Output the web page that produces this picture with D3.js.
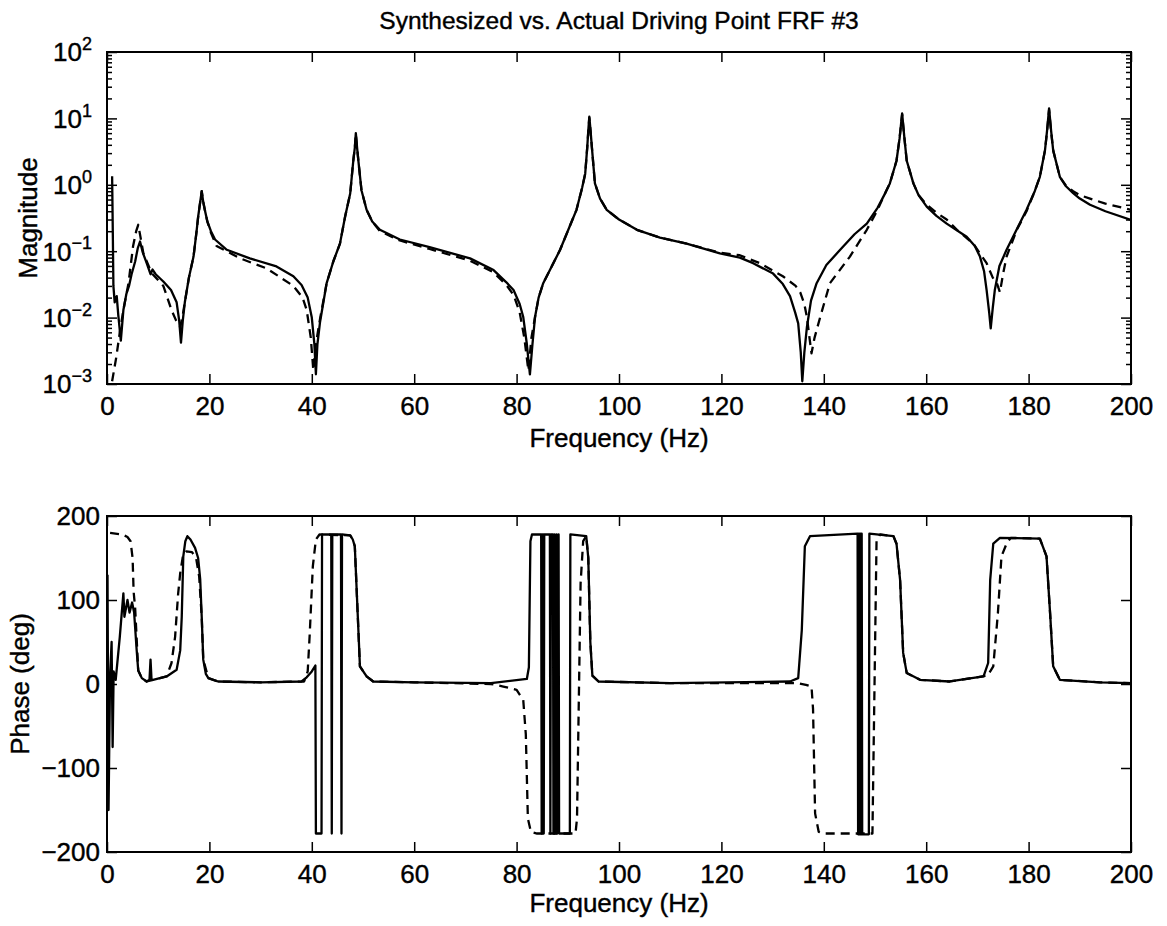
<!DOCTYPE html>
<html>
<head>
<meta charset="utf-8">
<script src="https://d3js.org/d3.v7.min.js"></script>
<style>
  body { margin: 0; background: white; }
  svg { display: block; font-family: "Liberation Sans", Arial, Helvetica, sans-serif; }
  svg text { fill: black; stroke: black; stroke-width: 0.4; }
  .tick line { stroke: black; stroke-width: 1.5; }
  .tick text { font-size: 26px; }
  .line { fill: none; stroke: black; stroke-width: 2.3; stroke-linejoin: round; }
  .dash { stroke-dasharray: 9 6; }
</style>
</head>
<body>
<div id="chart"></div>
<script>
// frequency axis ticks (Hz)
var freqTicks = [0, 20, 40, 60, 80, 100, 120, 140, 160, 180, 200];
var magDecades = [1e-3, 1e-2, 1e-1, 1, 10, 100];
var magExponents = ["\u22123", "\u22122", "\u22121", "0", "1", "2"];
var phaseTicks = [-200, -100, 0, 100, 200];

// actual (measured) FRF magnitude, solid line: [Hz, magnitude]
var actualMag = [
  [1.0, 1.35], [1.15, 0.15], [1.25, 0.03], [1.5, 0.017], [1.9, 0.021], [2.2, 0.011],
  [2.7, 0.0045], [3.2, 0.013], [3.8, 0.023], [4.3, 0.03], [4.8, 0.045], [5.5, 0.07],
  [6.0, 0.11], [6.45, 0.14], [7.0, 0.095], [7.75, 0.066], [8.5, 0.045], [8.9, 0.053],
  [9.5, 0.045], [11.0, 0.035], [12.5, 0.026], [13.6, 0.017], [14.1, 0.009], [14.45, 0.0042],
  [14.8, 0.009], [15.2, 0.017], [16.0, 0.04], [16.9, 0.083], [17.5, 0.2], [17.8, 0.33],
  [18.2, 0.55], [18.5, 0.8], [18.8, 0.55], [19.1, 0.42], [19.6, 0.28], [20.3, 0.2],
  [21.1, 0.15], [23.4, 0.105], [27.9, 0.078], [33.1, 0.059], [36.4, 0.042], [38.0, 0.031],
  [39.2, 0.02], [40.0, 0.01], [40.5, 0.004], [40.8, 0.0014], [41.1, 0.004], [41.6, 0.0085],
  [42.9, 0.033], [44.2, 0.07], [45.5, 0.13], [46.5, 0.33], [47.5, 0.74], [48.1, 2.3],
  [48.4, 3.6], [48.6, 6.0], [48.85, 3.6], [49.1, 2.3], [49.7, 0.83], [50.7, 0.42],
  [51.8, 0.28], [53.3, 0.21], [57.2, 0.15], [63.0, 0.115], [70.9, 0.078], [75.5, 0.052],
  [78.0, 0.034], [79.4, 0.026], [80.6, 0.016], [81.3, 0.0102], [82.0, 0.004], [82.6, 0.0014],
  [83.1, 0.004], [83.6, 0.0102], [84.3, 0.02], [85.2, 0.033], [88.5, 0.105], [90.5, 0.25],
  [91.7, 0.42], [92.8, 0.9], [93.4, 1.47], [93.8, 3.7], [94.0, 6.5], [94.2, 10.6],
  [94.45, 6.5], [94.7, 3.7], [95.3, 1.05], [96.3, 0.62], [97.6, 0.42], [100, 0.3],
  [103.5, 0.21], [108, 0.16], [113.2, 0.13], [119.7, 0.093], [123.6, 0.08], [126.2, 0.066],
  [130.1, 0.046], [132.0, 0.032], [133.4, 0.021], [134.4, 0.012], [135.0, 0.0082], [135.5, 0.003],
  [135.8, 0.0011], [136.2, 0.003], [136.7, 0.0072], [137.5, 0.018], [138.6, 0.033], [140.5, 0.062],
  [143.2, 0.105], [146.0, 0.18], [148.4, 0.26], [150.5, 0.45], [152.0, 0.75], [152.9, 1.05],
  [153.6, 1.6], [154.2, 2.3], [154.8, 5], [155.3, 11.9], [155.75, 5], [156.2, 2.3],
  [157.5, 1.05], [158.5, 0.7], [160.1, 0.47], [162, 0.34], [164, 0.26], [167.9, 0.165],
  [169.5, 0.12], [170.5, 0.083], [171.3, 0.05], [171.8, 0.026], [172.3, 0.012], [172.6, 0.0069],
  [173.0, 0.014], [173.4, 0.026], [174.3, 0.06], [175.7, 0.105], [177.5, 0.2], [179.6, 0.42],
  [181.2, 0.8], [182.2, 1.32], [183.2, 3.3], [183.6, 6.5], [184.0, 14.2], [184.4, 6.5],
  [184.8, 3.3], [186.1, 1.32], [187.3, 0.95], [188.7, 0.75], [190, 0.62], [192, 0.5],
  [195, 0.4], [200, 0.295]
];

// synthesized FRF magnitude, dashed line: [Hz, magnitude]
var synthMag = [
  [1.0, 0.0011], [1.8, 0.0025], [2.5, 0.006], [3.2, 0.013], [4.2, 0.033], [5.1, 0.12],
  [5.7, 0.2], [6.1, 0.25], [6.5, 0.17], [7.1, 0.093], [8.7, 0.047], [11.0, 0.03],
  [12.6, 0.013], [13.5, 0.009], [14.3, 0.0072], [14.8, 0.011], [15.2, 0.017], [16.0, 0.04],
  [16.9, 0.083], [17.5, 0.2], [17.8, 0.33], [18.2, 0.55], [18.5, 0.8], [18.8, 0.55],
  [19.1, 0.42], [19.6, 0.28], [20.3, 0.19], [21.4, 0.12], [26.0, 0.078], [31.2, 0.055],
  [36.4, 0.03], [38.2, 0.02], [39.0, 0.013], [39.8, 0.005], [40.3, 0.0016], [40.8, 0.004],
  [41.6, 0.0095], [42.9, 0.033], [44.2, 0.07], [45.5, 0.13], [46.5, 0.33], [47.5, 0.74],
  [48.1, 2.3], [48.4, 3.6], [48.6, 5.8], [48.85, 3.6], [49.1, 2.3], [49.7, 0.83],
  [50.7, 0.42], [51.8, 0.28], [53.3, 0.2], [57.2, 0.145], [63.0, 0.108], [70.9, 0.072],
  [75.5, 0.048], [78.0, 0.031], [79.4, 0.022], [80.6, 0.012], [81.5, 0.005], [82.3, 0.0016],
  [82.9, 0.005], [83.6, 0.0102], [84.3, 0.02], [85.2, 0.033], [88.5, 0.105], [90.5, 0.25],
  [91.7, 0.42], [92.8, 0.9], [93.4, 1.47], [93.8, 3.7], [94.0, 6.3], [94.2, 10.2],
  [94.45, 6.3], [94.7, 3.7], [95.3, 1.05], [96.3, 0.62], [97.6, 0.42], [100, 0.3],
  [103.5, 0.21], [108, 0.16], [113.2, 0.13], [119.7, 0.095], [123.6, 0.087], [127.5, 0.066],
  [132.0, 0.042], [134.5, 0.03], [135.4, 0.024], [136.2, 0.016], [136.7, 0.0102], [137.2, 0.005],
  [137.6, 0.0029], [138.2, 0.005], [139.3, 0.0102], [141.2, 0.033], [145.1, 0.083], [148.4, 0.21],
  [150.5, 0.42], [152.0, 0.75], [152.9, 1.05], [153.6, 1.6], [154.2, 2.3], [154.8, 5],
  [155.3, 11.5], [155.75, 5], [156.2, 2.3], [157.5, 1.05], [158.5, 0.7], [160.1, 0.5],
  [162, 0.38], [164, 0.3], [166, 0.21], [169.2, 0.13], [171.8, 0.066], [173.0, 0.04],
  [173.8, 0.033], [174.4, 0.024], [175.0, 0.045], [175.7, 0.083], [177.7, 0.21], [179.6, 0.4],
  [181.2, 0.8], [182.2, 1.32], [183.2, 3.3], [183.6, 6.3], [184.0, 13.5], [184.4, 6.3],
  [184.8, 3.3], [186.1, 1.32], [187.3, 0.97], [188.7, 0.8], [190, 0.7], [192, 0.62],
  [195, 0.52], [200, 0.42]
];

// actual FRF phase, solid line: [Hz, deg]
var actualPhase = [
  [0.1, 130], [0.3, -150], [0.6, 10], [0.9, 50], [1.1, -75], [1.3, 15], [1.7, 5],
  [2.5, 56], [3.2, 108], [3.4, 80], [4.0, 100], [4.4, 85], [4.9, 97], [5.3, 85],
  [5.8, 40], [6.1, 16], [6.8, 7], [7.75, 3], [8.3, 5], [8.5, 29], [8.7, 5], [9, 5],
  [11.65, 9], [13.6, 17], [14.3, 40], [14.6, 80], [14.9, 152], [15.3, 170], [15.7, 176],
  [16.3, 172], [17.2, 162], [17.8, 150], [18.2, 125], [18.5, 80], [18.8, 29], [19.3, 12],
  [19.8, 7], [21.7, 3], [30, 2], [38, 3], [39, 8], [40.0, 15], [40.7, 22], [40.8, -178],
  [41.9, -178], [42.0, 178], [43.8, 178], [43.9, -178], [44.0, 178], [45.7, 178], [45.8, -178],
  [45.9, 178], [47.5, 177], [48.0, 172], [48.4, 164], [49.1, 64], [49.4, 21], [50.7, 9],
  [52, 3], [60, 2], [75, 1], [82, 6], [82.4, 20], [82.7, 170], [83.0, 178], [84.8, 178],
  [84.9, -178], [85.0, 178], [85.1, -178], [85.2, 178], [85.3, -178], [85.4, 178], [86.5, 178],
  [86.6, -178], [86.7, 178], [87.1, 178], [87.2, -178], [87.4, 178], [87.5, -178], [87.8, 178],
  [87.9, -178], [88.2, 178], [88.3, -178], [90.4, -178], [90.5, 178], [93.6, 176], [94.0, 150],
  [94.4, 50], [94.8, 10], [96, 3], [110, 1], [133.4, 3], [135.0, 7], [135.7, 64], [136.3, 164],
  [137.3, 176], [146.6, 179], [146.7, -179], [146.8, 179], [146.9, -179], [147.0, 179],
  [147.1, -179], [147.2, 179], [147.3, -179], [147.4, 179], [147.5, -179], [148.8, -179],
  [148.9, 179], [153.6, 176], [154.2, 167], [154.9, 124], [155.5, 37], [156.2, 13], [158.8, 5],
  [164.6, 3], [171.2, 9], [172.1, 25], [172.5, 124], [173.1, 167], [174.4, 174], [182.2, 173],
  [183.5, 152], [184.2, 84], [184.8, 21], [186.1, 5], [193.9, 2], [200, 1]
];

// synthesized FRF phase, dashed line: [Hz, deg]
var synthPhase = [
  [0.6, 180], [3.0, 178], [4.0, 175], [4.6, 170], [5.0, 150], [5.2, 110], [5.5, 90],
  [6.1, 16], [6.8, 7], [7.75, 3], [11.65, 9], [12.6, 25], [13.3, 56], [13.9, 108],
  [14.3, 132], [14.9, 155], [15.5, 158], [16.6, 157], [17.4, 150], [18.0, 128], [18.5, 80],
  [18.8, 29], [19.8, 7], [21.7, 3], [30, 2], [38.5, 3], [39.2, 15], [39.6, 60], [40.2, 140],
  [40.8, 172], [41.5, 178], [47.5, 177], [48.0, 172], [48.4, 164], [49.1, 64], [49.4, 21],
  [50.7, 9], [52, 3], [60, 2], [75, 0], [77.4, -3], [80, -7], [81.3, -19], [81.8, -60],
  [82.2, -160], [82.8, -176], [84, -178], [91.5, -178], [91.8, -160], [92.5, 120], [93.0, 170],
  [93.6, 176], [94.0, 150], [94.4, 50], [94.8, 10], [96, 3], [110, 1], [135, 1], [136.5, -1],
  [137.6, -3], [137.9, -30], [138.3, -154], [139.0, -176], [140, -178], [149.5, -178],
  [150.3, 170], [151.0, 178], [153.6, 176], [154.2, 167], [154.9, 124], [155.5, 37],
  [156.2, 13], [158.8, 5], [164.6, 3], [172.0, 10], [173.1, 21], [174.0, 84], [174.7, 152],
  [175.7, 167], [176.5, 174], [182.2, 173], [183.5, 152], [184.2, 84], [184.8, 21], [186.1, 5],
  [193.9, 2], [200, 1]
];

var width = 1167, height = 926;
var plotLeft = 107, plotRight = 1131;
var magTop = 52, magBottom = 384;
var phTop = 516, phBottom = 852;

var svg = d3.select("#chart").append("svg")
    .attr("width", width)
    .attr("height", height);

var x = d3.scaleLinear().domain([0, 200]).range([plotLeft, plotRight]);
var yMag = d3.scaleLog().domain([1e-3, 1e2]).range([magBottom, magTop]);
var yPh = d3.scaleLinear().domain([-200, 200]).range([phBottom, phTop]);

function clip(id, top, bottom) {
    svg.append("clipPath").attr("id", id)
        .append("rect")
        .attr("x", plotLeft).attr("y", top)
        .attr("width", plotRight - plotLeft).attr("height", bottom - top);
}
clip("clipMag", magTop, magBottom);
clip("clipPh", phTop, phBottom);

function strip(g) { g.select(".domain").remove(); }

function xAxes(top, bottom) {
    svg.append("g")
        .attr("transform", "translate(0," + bottom + ")")
        .call(d3.axisBottom(x).tickValues(freqTicks).tickSize(-10).tickSizeOuter(0).tickPadding(13))
        .call(strip);
    svg.append("g")
        .attr("transform", "translate(0," + top + ")")
        .call(d3.axisTop(x).tickValues(freqTicks).tickSize(-10).tickSizeOuter(0).tickFormat(""))
        .call(strip);
}

// ---- magnitude panel ----
xAxes(magTop, magBottom);

var minor = [];
magDecades.slice(0, -1).forEach(function (d) {
    for (var k = 2; k <= 9; k++) minor.push(d * k);
});

[[d3.axisLeft, plotLeft], [d3.axisRight, plotRight]].forEach(function (a) {
    svg.append("g").attr("transform", "translate(" + a[1] + ",0)")
        .call(a[0](yMag).tickValues(magDecades).tickSize(-10).tickSizeOuter(0).tickFormat(""))
        .call(strip);
    svg.append("g").attr("transform", "translate(" + a[1] + ",0)")
        .call(a[0](yMag).tickValues(minor).tickSize(-5).tickSizeOuter(0).tickFormat(""))
        .call(strip);
});

var decLabels = svg.append("g").attr("font-size", 26).attr("text-anchor", "end");
magDecades.forEach(function (d, i) {
    var t = decLabels.append("text")
        .attr("x", 92)
        .attr("y", yMag(d))
        .attr("dy", "0.36em");
    t.append("tspan").text("10");
    t.append("tspan").attr("font-size", 18).attr("dy", "-0.62em").text(magExponents[i]);
});

var line = function (ys) {
    return d3.line().x(function (d) { return x(d[0]); }).y(function (d) { return ys(d[1]); });
};

var magG = svg.append("g").attr("clip-path", "url(#clipMag)");
magG.append("path").datum(synthMag).attr("class", "line dash").attr("d", line(yMag));
magG.append("path").datum(actualMag).attr("class", "line").attr("d", line(yMag));

svg.append("rect")
    .attr("x", plotLeft).attr("y", magTop)
    .attr("width", plotRight - plotLeft).attr("height", magBottom - magTop)
    .attr("fill", "none").attr("stroke", "black").attr("stroke-width", 2);

// ---- phase panel ----
xAxes(phTop, phBottom);

svg.append("g").attr("transform", "translate(" + plotLeft + ",0)")
    .call(d3.axisLeft(yPh).tickValues(phaseTicks).tickSize(-10).tickSizeOuter(0).tickPadding(7))
    .call(strip);
svg.append("g").attr("transform", "translate(" + plotRight + ",0)")
    .call(d3.axisRight(yPh).tickValues(phaseTicks).tickSize(-10).tickSizeOuter(0).tickFormat(""))
    .call(strip);

var phG = svg.append("g").attr("clip-path", "url(#clipPh)");
phG.append("path").datum(synthPhase).attr("class", "line dash").attr("d", line(yPh));
phG.append("path").datum(actualPhase).attr("class", "line").attr("d", line(yPh));

svg.append("rect")
    .attr("x", plotLeft).attr("y", phTop)
    .attr("width", plotRight - plotLeft).attr("height", phBottom - phTop)
    .attr("fill", "none").attr("stroke", "black").attr("stroke-width", 2);

// ---- titles ----
var mid = (plotLeft + plotRight) / 2;
svg.append("text").attr("x", mid).attr("y", 29)
    .attr("text-anchor", "middle").attr("font-size", 24.5)
    .text("Synthesized vs. Actual Driving Point FRF #3");
svg.append("text").attr("x", mid).attr("y", 447)
    .attr("text-anchor", "middle").attr("font-size", 26)
    .text("Frequency (Hz)");
svg.append("text").attr("x", mid).attr("y", 912)
    .attr("text-anchor", "middle").attr("font-size", 26)
    .text("Frequency (Hz)");
svg.append("text")
    .attr("transform", "translate(37," + (magTop + magBottom) / 2 + ") rotate(-90)")
    .attr("text-anchor", "middle").attr("font-size", 26)
    .text("Magnitude");
svg.append("text")
    .attr("transform", "translate(29," + (phTop + phBottom) / 2 + ") rotate(-90)")
    .attr("text-anchor", "middle").attr("font-size", 26)
    .text("Phase (deg)");
</script>
</body>
</html>
